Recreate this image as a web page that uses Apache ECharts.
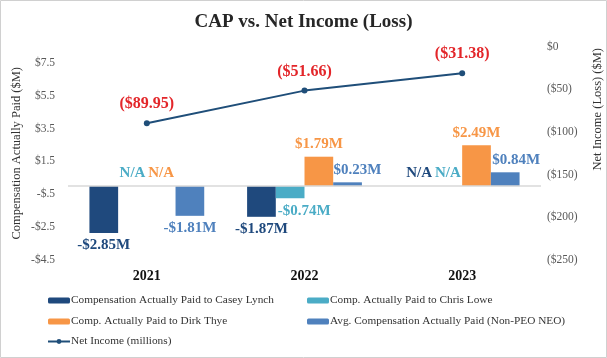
<!DOCTYPE html>
<html><head><meta charset="utf-8">
<script src="https://cdn.jsdelivr.net/npm/echarts@6/dist/echarts.min.js"></script>
<style>html,body{margin:0;padding:0;background:#fff}#c{width:607px;height:358px}</style>
</head><body><div id="c"></div>
<script>
const years = ['2021', '2022', '2023'];
const caseyLynch = [-2.85, -1.87, null];
const chrisLowe = [null, -0.74, null];
const dirkThye = [null, 1.79, 2.49];
const avgNonPeo = [-1.81, 0.23, 0.84];
const netIncome = [-89.95, -51.66, -31.38];
const leftTicks = [-4.5, -2.5, -0.5, 1.5, 3.5, 5.5, 7.5];
const rightTicks = [-250, -200, -150, -100, -50, 0];

const FONT = '"Liberation Serif", "Times New Roman", serif';
const colors = {casey: '#1f497d', chris: '#4bacc6', dirk: '#f79646', avg: '#4f81bd', line: '#1f4e79', red: '#e3262a'};
const labelShift = {chris: [0, 14, 0], avg: [0, 10, 11]};
const names = {
  casey: 'Compensation Actually Paid to Casey Lynch',
  chris: 'Comp. Actually Paid to Chris Lowe',
  dirk: 'Comp. Actually Paid to Dirk Thye',
  avg: 'Avg. Compensation Actually Paid (Non-PEO NEO)',
  net: 'Net Income (millions)'
};

function money(v) {
  const a = Math.abs(v).toFixed(2);
  return (v < 0 ? '-$' : '$') + a + 'M';
}
function buildData(arr, color, shift) {
  return arr.map((v, i) => {
    const off = shift ? [shift[i], 0] : [0, 0];
    if (v === null) {
      return {value: 0, label: {show: true, position: 'top', formatter: 'N/A', color: color, offset: [0, 0]}};
    }
    return {value: v, label: {show: true, position: v < 0 ? 'bottom' : 'top', formatter: money(v), color: color, offset: off}};
  });
}
function leftFmt(v) {
  if (!leftTicks.some(t => Math.abs(t - v) < 1e-6)) return '';
  const a = Math.abs(v);
  const s = (a < 1 ? String(a).replace(/^0/, '') : String(a));
  return (v < 0 ? '-$' : '$') + s;
}
function rightFmt(v) {
  if (v === 0) return '$0';
  return '($' + Math.abs(v) + ')';
}
const barLabel = {fontFamily: FONT, fontSize: 15, fontWeight: 'bold', distance: 5};
function barSeries(name, arr, color, shift) {
  return {
    name: name, type: 'bar', yAxisIndex: 0, barWidth: 28.7, barGap: '0%',
    itemStyle: {color: color},
    label: Object.assign({show: true}, barLabel),
    data: buildData(arr, color, shift)
  };
}
function legendAt(name, left, top) {
  return {orient: 'horizontal', left: left, top: top, itemWidth: 22, itemHeight: 6, padding: 0,
    textStyle: {fontFamily: FONT, fontSize: 11.3, color: '#333', padding: [0, 0, 0, -4]}, data: [name]};
}
const chart = echarts.init(document.getElementById('c'));
const s1 = barSeries(names.casey, caseyLynch, colors.casey);
s1.markLine = {silent: true, symbol: 'none', label: {show: false}, lineStyle: {color: '#d9d9d9', width: 1.5, type: 'solid'}, data: [{yAxis: 0}]};
chart.setOption({
  animation: false,
  graphic: [{type: 'rect', shape: {x: 0.5, y: 0.5, width: 606, height: 357}, style: {fill: 'none', stroke: '#d0d0d0', lineWidth: 1}, silent: true}],
  title: {text: 'CAP vs. Net Income (Loss)', left: 'center', top: 8, textStyle: {fontFamily: FONT, fontSize: 19, fontWeight: 'bold', color: '#262626'}},
  grid: {left: 68, right: 66, top: 46.5, bottom: 98, outerBoundsMode: 'none', containLabel: false},
  legend: [
    legendAt(names.casey, 48, 295),
    legendAt(names.chris, 307, 295),
    legendAt(names.dirk, 48, 316),
    legendAt(names.avg, 307, 316),
    legendAt(names.net, 47, 336)
  ],
  xAxis: {type: 'category', data: years, axisLine: {show: false, onZero: false}, axisTick: {show: false},
    axisLabel: {margin: 9, fontFamily: FONT, fontSize: 14, fontWeight: 'bold', color: '#111'}},
  yAxis: [
    {type: 'value', min: -4.5, max: 8.5, interval: 2, splitLine: {show: false}, axisLine: {show: false}, axisTick: {show: false},
     axisLabel: {showMaxLabel: false, formatter: leftFmt, fontFamily: FONT, fontSize: 11.5, color: '#595959', margin: 13},
     name: 'Compensation Actually Paid ($M)', nameLocation: 'middle', nameGap: 45, nameMoveOverlap: false,
     nameTextStyle: {fontFamily: FONT, fontSize: 12.5, color: '#333'}},
    {type: 'value', min: -250, max: 0, interval: 50, position: 'right', splitLine: {show: false}, axisLine: {show: false}, axisTick: {show: false},
     axisLabel: {formatter: rightFmt, fontFamily: FONT, fontSize: 11.5, color: '#595959', margin: 6},
     name: 'Net Income (Loss) ($M)', nameLocation: 'middle', nameGap: 50, nameMoveOverlap: false,
     nameTextStyle: {fontFamily: FONT, fontSize: 12.5, color: '#333', padding: [0, 0, 0, 88]}}
  ],
  series: [
    s1,
    barSeries(names.chris, chrisLowe, colors.chris, labelShift.chris),
    barSeries(names.dirk, dirkThye, colors.dirk),
    barSeries(names.avg, avgNonPeo, colors.avg, labelShift.avg),
    {name: names.net, type: 'line', yAxisIndex: 1, data: netIncome,
     symbol: 'circle', symbolSize: 6, itemStyle: {color: colors.line}, lineStyle: {color: colors.line, width: 2},
     label: {show: true, position: 'top', distance: 8, formatter: p => '($' + Math.abs(p.value).toFixed(2) + ')',
       fontFamily: FONT, fontSize: 16, fontWeight: 'bold', color: colors.red}}
  ]
});
</script></body></html>
